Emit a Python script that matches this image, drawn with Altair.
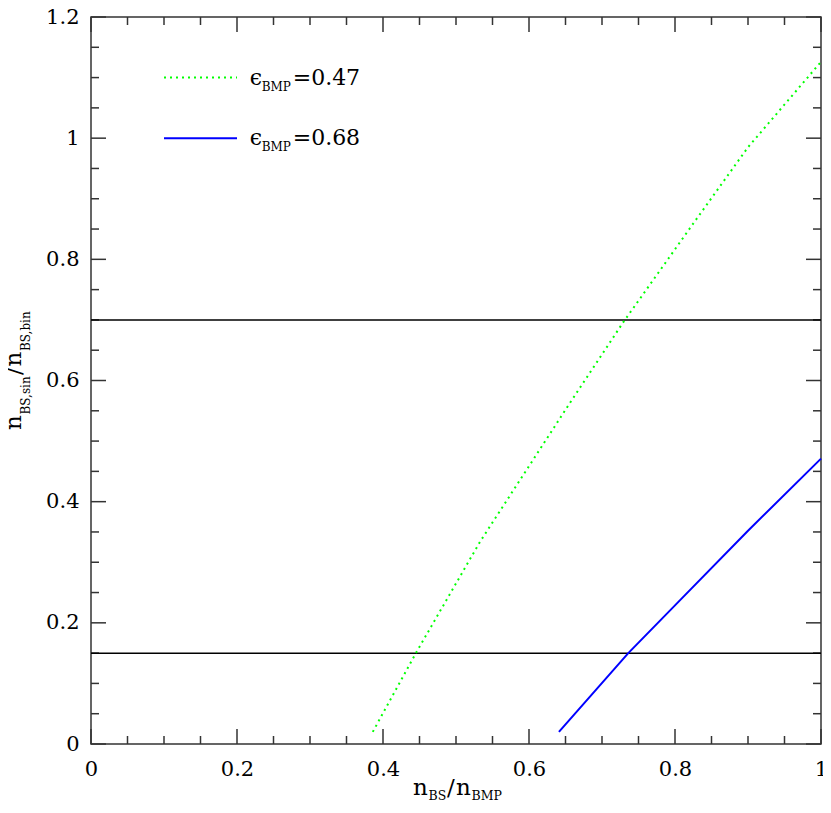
import altair as alt
import pandas as pd

# ---- data ----
green_x = [0.386, 0.445, 0.533, 0.655, 0.729, 0.827, 0.9, 1.0]
green_y = [0.02, 0.15, 0.334, 0.561, 0.696, 0.8625, 0.985, 1.126]
blue_x = [0.641, 0.736, 0.805, 0.9, 1.0]
blue_y = [0.02, 0.15, 0.235, 0.352, 0.471]
hline_y = [0.15, 0.7]

legend_vals = ["0.47", "0.68"]
legend_y = [1.1, 1.0]
legend_x = [0.1, 0.2]
legend_text_x = 0.2174

x_major = [0, 0.2, 0.4, 0.6, 0.8, 1.0]
x_minor = [0.05, 0.1, 0.15, 0.25, 0.3, 0.35, 0.45, 0.5, 0.55, 0.65, 0.7, 0.75,
           0.85, 0.9, 0.95]
y_major = [0, 0.2, 0.4, 0.6, 0.8, 1.0, 1.2]
y_minor = [0.05, 0.1, 0.15, 0.25, 0.3, 0.35, 0.45, 0.5, 0.55, 0.65, 0.7, 0.75,
           0.85, 0.9, 0.95, 1.05, 1.1, 1.15]

W, H = 730, 727
FONT = "DejaVu Serif"
TICK_COLOR = "#333333"

xs = alt.Scale(domain=[0, 1], nice=False, zero=False)
ys = alt.Scale(domain=[0, 1.2], nice=False, zero=False)

AX = alt.Axis(values=x_major, format="~g", ticks=False, domain=False, grid=False,
              labelFont=FONT, labelFontSize=21, labelColor="black", labelPadding=14,
              labelFlush=False, labelOverlap=False, title=None)
AY = alt.Axis(values=y_major, format="~g", ticks=False, domain=False, grid=False,
              labelFont=FONT, labelFontSize=21, labelColor="black", labelPadding=12,
              labelFlush=False, labelOverlap=False, title=None)


def X(field):
    return alt.X(field, type="quantitative", scale=xs, axis=AX)


def Y(field):
    return alt.Y(field, type="quantitative", scale=ys, axis=AY)


green_df = pd.DataFrame({"x": green_x, "y": green_y})
blue_df = pd.DataFrame({"x": blue_x, "y": blue_y})
hl_df = pd.DataFrame({"y": hline_y})

axis_layer = alt.Chart(pd.DataFrame({"x": [0, 1], "y": [0, 1.2]})).mark_point(opacity=0).encode(
    x=X("x"), y=Y("y"))

green = alt.Chart(green_df).mark_line(color="#00ff00", strokeWidth=2, strokeDash=[2, 4]).encode(
    x=X("x"), y=Y("y"))
blue = alt.Chart(blue_df).mark_line(color="#0000ff", strokeWidth=2).encode(
    x=X("x"), y=Y("y"))
hlines = alt.Chart(hl_df).mark_rule(color="black", strokeWidth=1.5).encode(
    y=Y("y"), x=alt.value(0), x2=alt.value(W))


def xticks(vals, length):
    df = pd.DataFrame({"v": vals})
    bot = alt.Chart(df).mark_rule(color=TICK_COLOR, strokeWidth=1.5).encode(
        x=X("v"), y=alt.value(H), y2=alt.value(H - length))
    top = alt.Chart(df).mark_rule(color=TICK_COLOR, strokeWidth=1.5).encode(
        x=X("v"), y=alt.value(0), y2=alt.value(length))
    return [bot, top]


def yticks(vals, length):
    df = pd.DataFrame({"v": vals})
    left = alt.Chart(df).mark_rule(color=TICK_COLOR, strokeWidth=1.5).encode(
        y=Y("v"), x=alt.value(0), x2=alt.value(length))
    right = alt.Chart(df).mark_rule(color=TICK_COLOR, strokeWidth=1.5).encode(
        y=Y("v"), x=alt.value(W), x2=alt.value(W - length))
    return [left, right]


ticks = xticks(x_major, 15) + xticks(x_minor, 8) + yticks(y_major, 15) + yticks(y_minor, 8)

dummy = alt.Data(values=[{}])


def piece(txt, px, py, size, angle=0):
    props = dict(text=txt, font=FONT, fontSize=size, align="left", baseline="alphabetic",
                 color="black")
    if angle:
        props["angle"] = angle
    return alt.Chart(dummy).mark_text(**props).encode(x=alt.value(px), y=alt.value(py))


# x-axis title: n_BS / n_BMP
xt_y, xs_y = 778, 783
x0 = 322
x_title = [
    piece("n", x0, xt_y, 23),
    piece("BS", x0 + 15.5, xs_y, 12.5),
    piece("/", x0 + 34, xt_y, 23),
    piece("n", x0 + 43, xt_y, 23),
    piece("BMP", x0 + 58.5, xs_y, 12.5),
]

# y-axis title (rotated): n_BS,sin / n_BS,bin
ym_x, ys_x = -70, -61
y_title = [
    piece("n", ym_x, 413, 23, 270),
    piece("BS,sin", ys_x, 397.5, 12, 270),
    piece("/", ym_x, 358, 23, 270),
    piece("n", ym_x, 349.5, 23, 270),
    piece("BS,bin", ys_x, 334, 12, 270),
]

# legend
leg_green = alt.Chart(pd.DataFrame({"x": legend_x, "y": [legend_y[0]] * 2})).mark_line(
    color="#00ff00", strokeWidth=2, strokeDash=[2, 4]).encode(x=X("x"), y=Y("y"))
leg_blue = alt.Chart(pd.DataFrame({"x": legend_x, "y": [legend_y[1]] * 2})).mark_line(
    color="#0000ff", strokeWidth=2).encode(x=X("x"), y=Y("y"))

leg_df = pd.DataFrame({"x": [legend_text_x] * 2, "y": legend_y,
                       "val": ["=" + v for v in legend_vals]})


def leg_text(field_or_text, dx, dy, size):
    props = dict(font=FONT, fontSize=size, align="left", baseline="alphabetic", color="black",
                 dx=dx, dy=dy)
    enc = dict(x=X("x"), y=Y("y"))
    if field_or_text == "val":
        enc["text"] = alt.Text("val:N")
    else:
        props["text"] = field_or_text
    return alt.Chart(leg_df).mark_text(**props).encode(**enc)


legend_texts = [leg_text("\u03f5", 0, 7, 22), leg_text("BMP", 12, 13, 12), leg_text("val", 43, 7, 22)]

chart = alt.layer(
    axis_layer, *ticks, hlines, green, blue, leg_green, leg_blue, *legend_texts, *x_title, *y_title
).properties(
    width=W, height=H,
    autosize=alt.AutoSizeParams(type="none"),
    padding={"left": 83, "top": 9, "right": 2, "bottom": 58},
    background="white",
).configure_view(stroke="#333333", strokeWidth=1.5)

chart.save("out.html", embed_options={"renderer": "svg", "actions": False})
